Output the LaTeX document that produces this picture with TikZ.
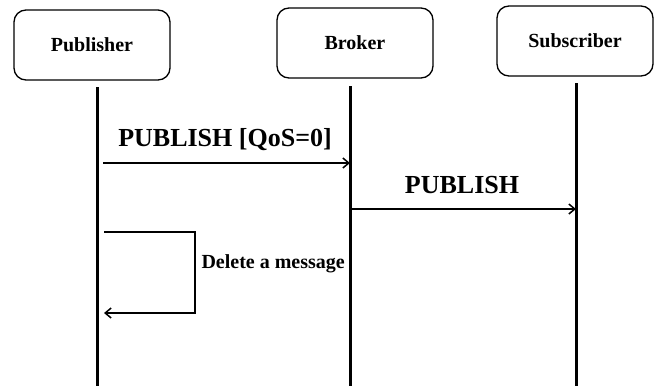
\documentclass[tikz,border=0pt]{standalone}
\usepackage{fontspec}
\setmainfont{Liberation Serif}
\usetikzlibrary{arrows.meta}
\begin{document}
\begin{tikzpicture}[x=1pt,y=-1pt,
		actor/.style={draw,rounded corners=12pt,line width=1.3pt,minimum width=156pt,minimum height=70pt,font=\bfseries\fontsize{20}{22}\selectfont},
		lifeline/.style={line width=3pt},
		msg/.style={line width=2pt,-{Straight Barb[length=6pt,width=10pt,line width=1.5pt]}},
		lbl/.style={font=\bfseries\fontsize{26}{28}\selectfont}]
			\useasboundingbox (0,0) rectangle (657,386);
			\node[actor] (pub) at (92,45) {Publisher};
			\node[actor] (brk) at (355,43) {Broker};
			\node[actor] (sub) at (575,41) {Subscriber};
			% lifelines
			\coordinate (pubtop) at (97,87);
			\coordinate (pubbot) at (97,386);
			\coordinate (brktop) at (350,86);
			\coordinate (brkbot) at (350,386);
			\coordinate (subtop) at (576,83);
			\coordinate (subbot) at (576,386);
			\draw[lifeline](pubtop)--(pubbot);
			\draw[lifeline](brktop)--(brkbot);
			\draw[lifeline](subtop)--(subbot);
			% messages
			\coordinate (p1) at (103,163);
			\coordinate (b1) at (350,163);
			\coordinate (b2) at (350,209);
			\coordinate (s2) at (576,209);
			\draw[msg](p1)--(b1);
			\draw[msg](b2)--(s2);
			\node[lbl] (m1) at (225,140) {PUBLISH [QoS=0]};
			\node[lbl] (m2) at (462,185) {PUBLISH};
			% self call on the publisher
			\coordinate (d1) at (104,232);
			\coordinate (d2) at (104,313);
			\draw[msg](d1)-|(195,313)--(d2);
			\node[anchor=west,font=\bfseries\fontsize{20}{22}\selectfont] (del) at (198,264) {Delete a message};
		\end{tikzpicture}
\end{document}
